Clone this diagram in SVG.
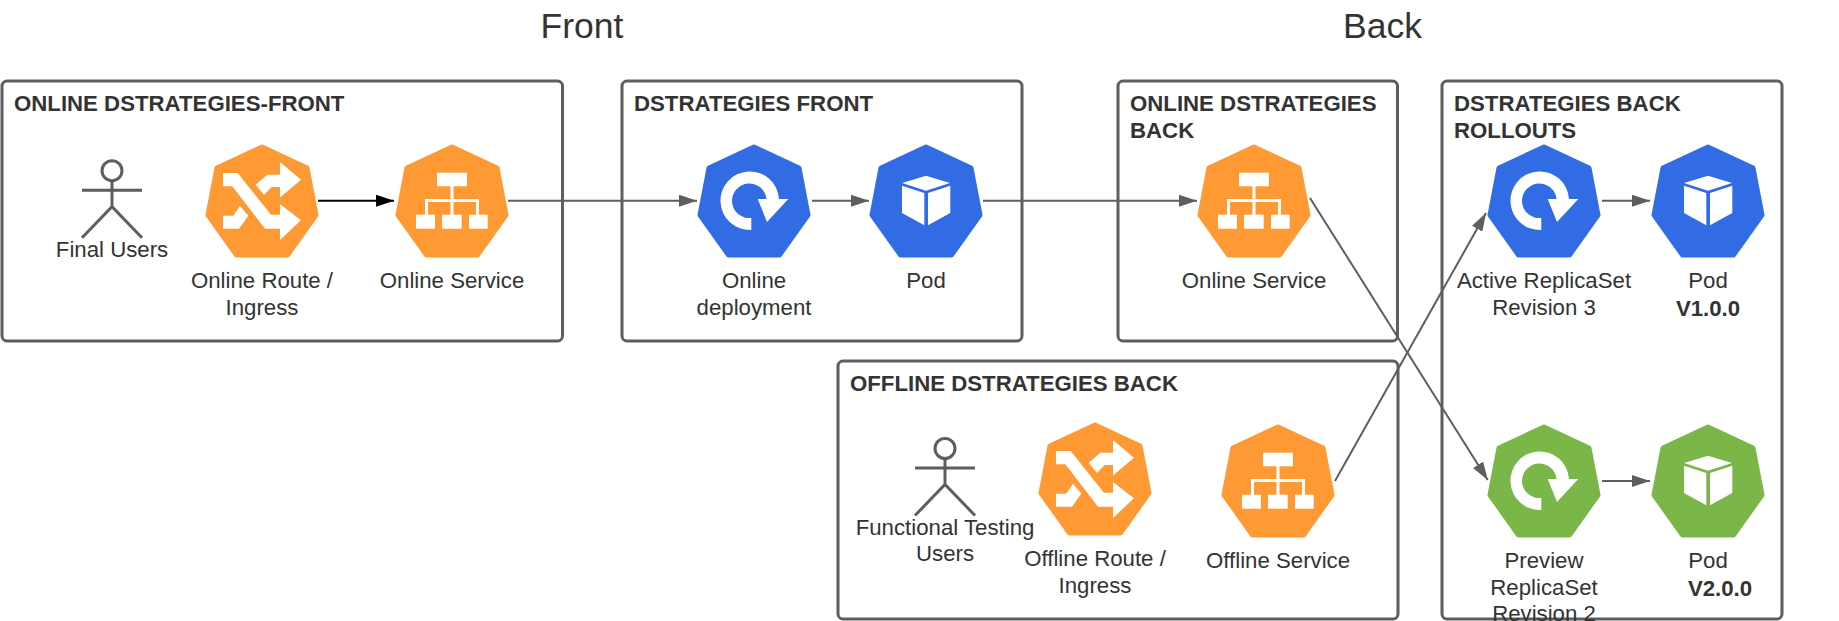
<svg xmlns="http://www.w3.org/2000/svg" width="1839" height="621" viewBox="0 0 1839 621">
<style>
text{font-family:"Liberation Sans",Arial,sans-serif;fill:#333333}
.h{font-size:35.5px;text-anchor:middle}
.t{font-size:22.22px;font-weight:700}
.l{font-size:22.22px;text-anchor:middle}
.b{font-size:22.22px;font-weight:700;text-anchor:middle}
.box{fill:none;stroke:#5e5e5e;stroke-width:3}
.c{fill:none;stroke:#5e5e5e;stroke-width:2}
.k{fill:none;stroke:#000;stroke-width:2}
.act{fill:none;stroke:#5e5e5e;stroke-width:3}
.w{fill:#fff}
.o{fill:#ff9933;stroke:#ff9933}
.bl{fill:#326ce5;stroke:#326ce5}
.g{fill:#7ab648;stroke:#7ab648}
.hp{stroke-width:5;stroke-linejoin:round}
</style>
<defs>
<marker id="ag" markerUnits="userSpaceOnUse" markerWidth="18" markerHeight="12" refX="18" refY="6" orient="auto"><path d="M0 0L18 6L0 12Z" fill="#5e5e5e"/></marker>
<marker id="ak" markerUnits="userSpaceOnUse" markerWidth="18" markerHeight="12" refX="18" refY="6" orient="auto"><path d="M0 0L18 6L0 12Z" fill="#000"/></marker>
<polygon id="hept" class="hp" points="0,3 45,24 54,71 25.500,111 -25.500,111 -54,71 -45,24"/>
<g id="route" class="w">
<path d="M-39 29L-24.3 29L9 70.7L18 70.7L18 60L39 76.3L18 96L18 84.7L3 84.7L-29.7 42.3L-39 42.3Z"/>
<path d="M18 18L39 35.7L18 53.500L18 43L9.7 43L2 51L-6.3 40.7L5.3 30.7L18 30.7Z"/>
<path d="M-39 84.7L-39 71.7L-28.7 71.7L-22 61.7L-13.7 71.7L-23 84.7Z"/>
</g>
<g id="svc" class="w">
<rect x="-15" y="28.7" width="30" height="13.6"/>
<rect x="-36" y="70.7" width="19" height="14"/>
<rect x="-10" y="70.7" width="19.7" height="14"/>
<rect x="17" y="70.7" width="18.7" height="14"/>
<path d="M-1.5 42L1.500 42L1.500 55L27 55L27 71L24 71L24 58L1.500 58L1.500 71L-1.500 71L-1.500 58L-24 58L-24 71L-27 71L-27 55L-1.500 55Z"/>
</g>
<g id="rs" class="w">
<path d="M-2.7 86A29.3 29.3 0 1 1 25 55L12.5 55A17.3 17.3 0 1 0 -2.7 74Z"/>
<path d="M3.7 55L34.3 55L13 78Z"/>
</g>
<g id="pod" class="w">
<path d="M0 31.7L24 39L0 46.7L-24 39Z"/>
<path d="M-24 41.7L-1.7 49L-1.7 81.3L-24 69Z"/>
<path d="M2 49L24.3 41.7L24.3 69L2 81.3Z"/>
</g>
<g id="actor" class="act">
<ellipse cx="0" cy="0" rx="10" ry="10"/>
<path d="M0 10L0 36M-30 19.5L30 19.5M-30 67L0 36L30 67"/>
</g>
</defs>
<rect width="1839" height="621" fill="#fff"/>
<text class="h" x="582" y="37.500">Front</text>
<text class="h" x="1382.500" y="37.500">Back</text>

<g id="box-online-front"><rect class="box" x="2" y="81" width="560.500" height="260" rx="5"/><text class="t" x="14" y="111">ONLINE DSTRATEGIES-FRONT</text></g>
<g id="box-front"><rect class="box" x="622" y="81" width="400" height="260" rx="5"/><text class="t" x="634" y="111">DSTRATEGIES FRONT</text></g>
<g id="box-online-back"><rect class="box" x="1118" y="81" width="279.500" height="260" rx="5"/><text class="t" x="1130" y="111">ONLINE DSTRATEGIES</text><text class="t" x="1130" y="137.500">BACK</text></g>
<g id="box-rollouts"><rect class="box" x="1442" y="81" width="340" height="538" rx="5"/><text class="t" x="1454" y="111">DSTRATEGIES BACK</text><text class="t" x="1454" y="137.500">ROLLOUTS</text></g>
<g id="box-offline-back"><rect class="box" x="838" y="361" width="560" height="258" rx="5"/><text class="t" x="850" y="391">OFFLINE DSTRATEGIES BACK</text></g>

<g id="connectors">
<path class="k" d="M318 200.700L394 200.700" marker-end="url(#ak)"/>
<path class="c" d="M508 200.700L697 200.700" marker-end="url(#ag)"/>
<path class="c" d="M812 200.700L869 200.700" marker-end="url(#ag)"/>
<path class="c" d="M983 200.700L1197 200.700" marker-end="url(#ag)"/>
<path class="c" d="M1310 198L1487.700 480" marker-end="url(#ag)"/>
<path class="c" d="M1335 481L1486 213" marker-end="url(#ag)"/>
<path class="c" d="M1602 200.700L1650 200.700" marker-end="url(#ag)"/>
<path class="c" d="M1602 481L1650 481" marker-end="url(#ag)"/>
</g>

<g id="final-users"><use href="#actor" x="112" y="170.700"/><text class="l" x="112" y="257">Final Users</text></g>
<g id="online-route" transform="translate(262 144)"><use href="#hept" class="o"/><use href="#route"/><text class="l" x="0" y="144">Online Route /</text><text class="l" x="0" y="171">Ingress</text></g>
<g id="online-service-front" transform="translate(452 144)"><use href="#hept" class="o"/><use href="#svc"/><text class="l" x="0" y="144">Online Service</text></g>
<g id="online-deployment" transform="translate(754 144)"><use href="#hept" class="bl"/><use href="#rs"/><text class="l" x="0" y="144">Online</text><text class="l" x="0" y="171">deployment</text></g>
<g id="pod-front" transform="translate(926 144)"><use href="#hept" class="bl"/><use href="#pod"/><text class="l" x="0" y="144">Pod</text></g>
<g id="online-service-back" transform="translate(1254 144)"><use href="#hept" class="o"/><use href="#svc"/><text class="l" x="0" y="144">Online Service</text></g>
<g id="active-rs" transform="translate(1544 144)"><use href="#hept" class="bl"/><use href="#rs"/><text class="l" x="0" y="144">Active ReplicaSet</text><text class="l" x="0" y="170.500">Revision 3</text></g>
<g id="pod-v1" transform="translate(1708 144)"><use href="#hept" class="bl"/><use href="#pod"/><text class="l" x="0" y="144">Pod</text><text class="b" x="0" y="172">V1.0.0</text></g>
<g id="preview-rs" transform="translate(1544 424)"><use href="#hept" class="g"/><use href="#rs"/><text class="l" x="0" y="144">Preview</text><text class="l" x="0" y="171">ReplicaSet</text><text class="l" x="0" y="196.500">Revision 2</text></g>
<g id="pod-v2" transform="translate(1708 424)"><use href="#hept" class="g"/><use href="#pod"/><text class="l" x="0" y="144">Pod</text><text class="b" x="12" y="172">V2.0.0</text></g>
<g id="testing-users"><use href="#actor" x="945" y="448.500"/><text class="l" x="945" y="535">Functional Testing</text><text class="l" x="945" y="561">Users</text></g>
<g id="offline-route" transform="translate(1095 422)"><use href="#hept" class="o"/><use href="#route"/><text class="l" x="0" y="144">Offline Route /</text><text class="l" x="0" y="171">Ingress</text></g>
<g id="offline-service" transform="translate(1278 424)"><use href="#hept" class="o"/><use href="#svc"/><text class="l" x="0" y="144">Offline Service</text></g>
</svg>
